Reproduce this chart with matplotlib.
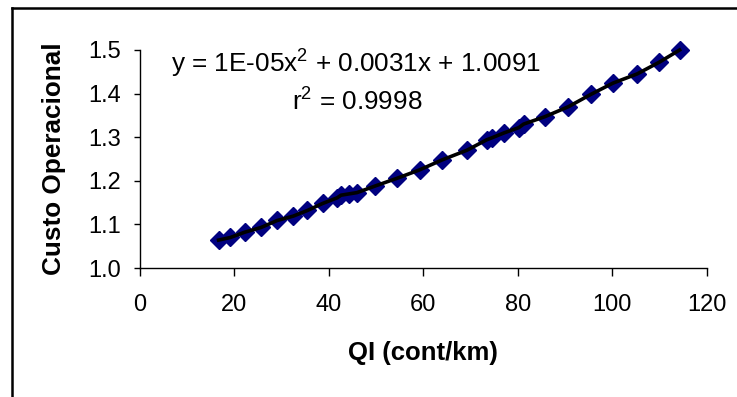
import matplotlib
matplotlib.use("Agg")
import matplotlib.pyplot as plt
from matplotlib.lines import Line2D

plt.rcParams['font.family'] = ['Liberation Sans', 'DejaVu Sans']
plt.rcParams['mathtext.fontset'] = 'custom'
plt.rcParams['mathtext.rm'] = 'Liberation Sans'

qi = [16.7, 19.2, 22.2, 25.7, 29.1, 32.5, 35.5, 38.7, 41.8, 42.6, 44.3, 46.0,
      49.8, 54.5, 59.2, 64.0, 69.2, 73.4, 74.6, 77.1, 80.2, 81.2, 85.7, 90.7,
      95.4, 100.1, 105.2, 109.9, 114.2]
custo = [1.064, 1.070, 1.082, 1.093, 1.109, 1.119, 1.132, 1.148, 1.161, 1.167,
         1.170, 1.173, 1.188, 1.206, 1.225, 1.248, 1.270, 1.294, 1.299, 1.310,
         1.322, 1.330, 1.347, 1.370, 1.398, 1.424, 1.445, 1.472, 1.500]
x_ticks = [0, 20, 40, 60, 80, 100, 120]
y_ticks = [1.0, 1.1, 1.2, 1.3, 1.4, 1.5]

fig = plt.figure(figsize=(7.37, 3.97), dpi=100)
ax = fig.add_axes([139.6/737, 1-268/397, (707-139.6)/737, (268-50)/397])

ax.plot(qi, custo, linestyle='none', marker='D', markersize=9.5,
        color='#000080', zorder=2, clip_on=False)
ax.plot(qi, custo, color='black', linewidth=2.6, zorder=3, clip_on=False)

ax.set_xlim(0, 120)
ax.set_ylim(1.0, 1.5)
ax.set_xticks(x_ticks)
ax.set_yticks(y_ticks)
ax.set_yticklabels([f"{v:.1f}" for v in y_ticks])
ax.tick_params(direction='out', width=1, labelsize=17)
ax.tick_params(axis='x', length=6, pad=13)
ax.tick_params(axis='y', length=4.3, pad=9)
for s in ['top', 'right']:
    ax.spines[s].set_visible(False)
for s in ['left', 'bottom']:
    ax.spines[s].set_linewidth(1)

ax.set_xlabel('QI (cont/km)', fontsize=18.5, fontweight='bold', va='center')
ax.xaxis.set_label_coords(0.5, -(353-268)/218)
ax.set_ylabel('Custo Operacional', fontsize=18.8, fontweight='bold',
              va='center', rotation_mode='default')
ax.yaxis.set_label_coords(-(139.6-54)/567.4, 0.5)

fig.text(356/737, 1-72/397, r'y = 1E-05x$^2$ + 0.0031x + 1.0091', fontsize=18.8,
         ha='center', va='baseline')
fig.text(357/737, 1-110/397, r'r$^2$ = 0.9998', fontsize=18.8,
         ha='center', va='baseline')

# outer frame
fx = 12/737
fy = 1-8/397
fig.add_artist(Line2D([fx, 1], [fy, fy], transform=fig.transFigure,
                      color='black', linewidth=1.8))
fig.add_artist(Line2D([fx, fx], [0, fy], transform=fig.transFigure,
                      color='black', linewidth=1.8))

fig.savefig('out.png', dpi=100)
